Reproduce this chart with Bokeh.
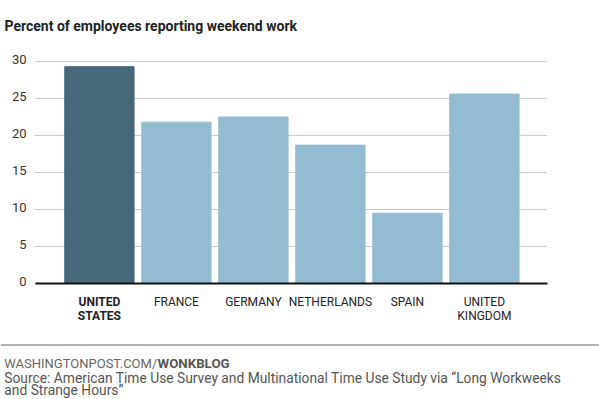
from bokeh.plotting import figure
from bokeh.models import ColumnDataSource, Range1d
from bokeh.core.properties import value
from bokeh.embed import file_html
from bokeh.resources import INLINE

# ---- data ----
countries = ["UNITED\nSTATES", "FRANCE", "GERMANY", "NETHERLANDS", "SPAIN", "UNITED\nKINGDOM"]
values = [29.3, 21.8, 22.5, 18.7, 9.5, 25.6]
highlight = [True, False, False, False, False, False]
y_ticks = [0, 5, 10, 15, 20, 25, 30]
y_tick_labels = ["0", "5", "10", "15", "20", "25", "30"]

TITLE = "Percent of employees reporting weekend work"
CREDIT_A = "WASHINGTONPOST.COM/"
CREDIT_B = "WONKBLOG"
SOURCE_1 = "Source: American Time Use Survey and Multinational Time Use Study  via \u201cLong Workweeks"
SOURCE_2 = "and Strange Hours\u201d"

DARK = "#466878"
LIGHT = "#93bcd0"
FONT = value("Roboto")

W, H = 599, 399
# chart area (pixels on the page)
PLOT_L, PLOT_R = 35, 547
BAR_X0, BAR_STEP = 98.9, 77.0     # px of first bar centre, px per category
ZERO_Y, UNIT_Y = 283.0, 7.4       # px of value 0, px per percentage point

xs = list(range(len(countries)))
colors = [DARK if h else LIGHT for h in highlight]
styles = ["bold" if h else "normal" for h in highlight]
src = ColumnDataSource(dict(x=xs, top=values, color=colors, label=countries,
                            style=styles, zero=[0] * len(xs)))

p = figure(width=W, height=H, output_backend="svg", toolbar_location=None,
           x_range=Range1d(-BAR_X0 / BAR_STEP, (W - BAR_X0) / BAR_STEP),
           y_range=Range1d(-(H - ZERO_Y) / UNIT_Y, ZERO_Y / UNIT_Y),
           x_axis_location=None, y_axis_location=None,
           min_border=0, min_border_left=0, min_border_right=0,
           min_border_top=0, min_border_bottom=0)
p.extra_x_ranges = {"px": Range1d(0, W)}
p.extra_y_ranges = {"px": Range1d(H, 0)}
p.outline_line_color = None
p.background_fill_color = "white"
p.border_fill_color = "white"
p.grid.visible = False
p.title.visible = False

# gridlines (dotted) at the tick values
n = len(y_ticks)
p.segment(x0=[PLOT_L] * n, x1=[PLOT_R - 1] * n, y0=y_ticks, y1=y_ticks,
          x_range_name="px", line_color="#999999", line_dash="1 1", line_width=1)

# bars
p.vbar(x="x", top="top", width=0.9, bottom=0, color="color", source=src)

# baseline
p.segment(x0=[PLOT_L], x1=[PLOT_R], y0=[0], y1=[0], x_range_name="px",
          line_color="#111111", line_width=2)

# y tick labels
p.text(x=[26] * n, y=y_ticks, text=y_tick_labels, x_range_name="px",
       text_align="right", text_baseline="middle", y_offset=-2,
       text_font=FONT, text_font_size="13px", text_color="#333333")

# category labels
p.text(x="x", y="zero", text="label", source=src, text_align="center",
       text_baseline="top", y_offset=11, text_font=FONT,
       text_font_size="12px", text_color="#222222",
       text_font_style="style", text_line_height=1.0)

# title
p.text(x=[4], y=[25.7], text=[TITLE], x_range_name="px", y_range_name="px",
       text_font=FONT, text_font_size="14px", text_font_style="bold",
       text_color="#222222", text_baseline="alphabetic")

# footer rule
p.segment(x0=[0], x1=[W], y0=[344.5], y1=[344.5], x_range_name="px",
          y_range_name="px", line_color="#666666", line_width=1)

# credit + source
p.text(x=[3.8], y=[362.7], text=[CREDIT_A], x_range_name="px", y_range_name="px",
       text_font=FONT, text_font_size="13px", text_color="#666666",
       text_baseline="alphabetic")
p.text(x=[157], y=[362.7], text=[CREDIT_B], x_range_name="px", y_range_name="px",
       text_font=FONT, text_font_size="13.3px", text_font_style="bold",
       text_color="#555555", text_baseline="alphabetic")
p.text(x=[3.8, 3.8], y=[377.5, 389], text=[SOURCE_1, SOURCE_2],
       x_range_name="px", y_range_name="px",
       text_font=FONT, text_font_size="13.8px", text_color="#555555",
       text_baseline="alphabetic")

open("out.html", "w").write(file_html(p, INLINE))
